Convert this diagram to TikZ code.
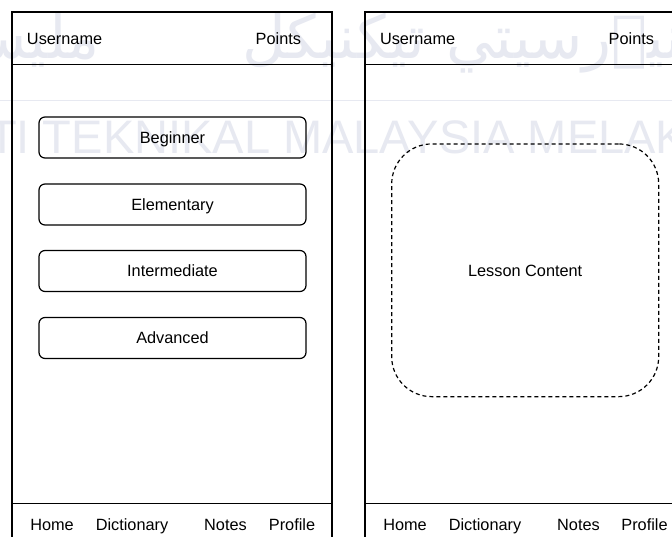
\documentclass[tikz,border=0pt]{standalone}
\usepackage{fontspec}
\setmainfont{Liberation Sans}
\newfontfamily\jawifont[Script=Arabic]{DejaVu Sans}
\TeXXeTstate=1
\definecolor{wm}{RGB}{231,233,241}
\begin{document}
\begin{tikzpicture}[x=1pt,y=-1pt,
  every node/.style={inner sep=0pt, outer sep=0pt},
  uitext/.style={font=\fontsize{16.3}{18}\selectfont, text height=11.7pt, text depth=0pt},
  frame/.style={draw=black, line width=1.3pt},
  levelbtn/.style={uitext, draw=black, line width=1.2pt, rounded corners=6pt,
    minimum width=267pt, minimum height=41pt},
  contentbox/.style={uitext, draw=black, line width=1.2pt, dash pattern=on 4pt off 3pt,
    rounded corners=40pt, minimum width=267pt, minimum height=252.7pt},
  wmtext/.style={text=wm, font=\fontsize{47}{50}\selectfont},
  wmjawi/.style={text=wm, font=\jawifont\fontsize{60}{64}\selectfont}
]
\clip (0,0) rectangle (672,536);
\fill[white] (0,0) rectangle (672,536);

% faint background watermark
\node[wmjawi, anchor=base west] (wj1) at (446,58) {\beginR اونيۏرسيتي\endR};
\node[wmjawi, anchor=base east] (wj2) at (425,58) {\beginR تيكنيكل\endR};
\node[wmjawi, anchor=base east] (wj3) at (100,58) {\beginR مليسيا\endR};
\draw[wm, line width=1pt] (0,100) -- (672,100);
\node[wmtext, anchor=base west] (wl) at (43,153) {\llap{UNIVERSITI }TEKNIKAL MALAYSIA MELAKA};

% left screen: level selection
\draw[frame] (12,545) -- (12,12) -- (332,12) -- (332,545);
\draw[frame] (12,64.5) -- (332,64.5);
\draw[frame] (12,503.7) -- (332,503.7);
\node[uitext, anchor=west] (lu) at (27,39) {Username};
\node[uitext, anchor=east] (lp) at (301,39) {Points};
\node[levelbtn] (b1) at (172.5,137.5) {Beginner};
\node[levelbtn] (b2) at (172.5,204.5) {Elementary};
\node[levelbtn] (b3) at (172.5,271) {Intermediate};
\node[levelbtn] (b4) at (172.5,338) {Advanced};
\node[uitext] (lh) at (52,525) {Home};
\node[uitext] (ld) at (132,525) {Dictionary};
\node[uitext] (ln) at (225.5,525) {Notes};
\node[uitext] (lpr) at (292,525) {Profile};

% right screen: lesson view
\draw[frame] (365,545) -- (365,12) -- (690,12);
\draw[frame] (365,64.5) -- (690,64.5);
\draw[frame] (365,503.7) -- (690,503.7);
\node[uitext, anchor=west] (ru) at (380,39) {Username};
\node[uitext, anchor=east] (rp) at (654,39) {Points};
\node[contentbox] (lesson) at (525.2,270.3) {Lesson Content};
\node[uitext] (rh) at (405,525) {Home};
\node[uitext] (rd) at (485,525) {Dictionary};
\node[uitext] (rn) at (578.5,525) {Notes};
\node[uitext] (rpr) at (644.5,525) {Profile};
\end{tikzpicture}
\end{document}
